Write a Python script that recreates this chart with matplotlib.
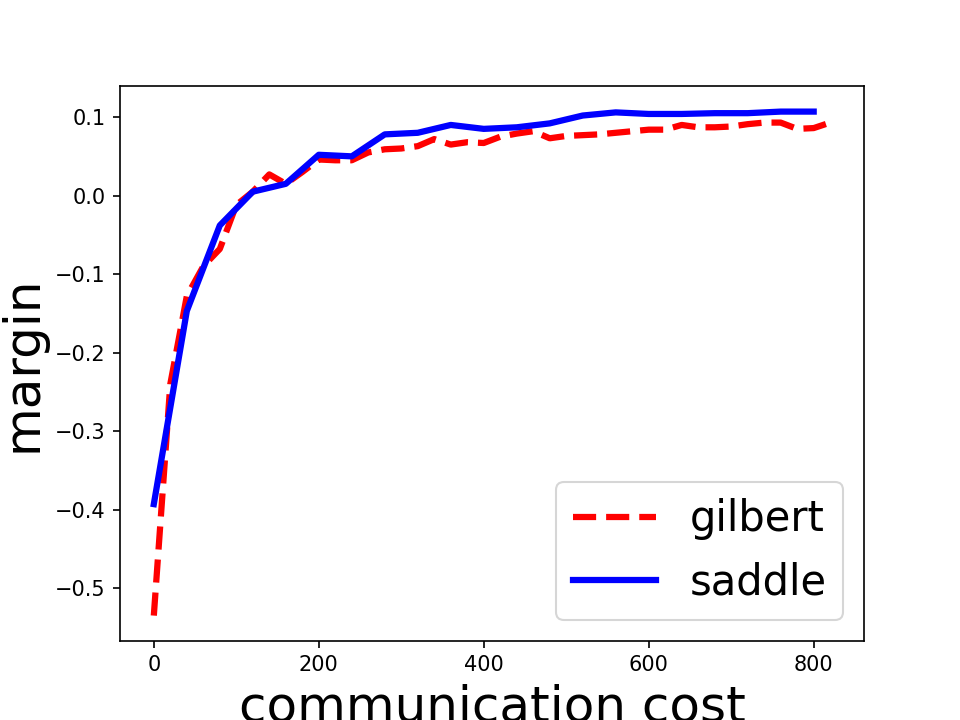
import matplotlib
matplotlib.use("Agg")
import matplotlib.pyplot as plt

# gilbert: sampled every 20 units of communication cost
gilbert_x = [0, 20, 40, 60, 80, 100, 120, 140, 160, 180, 200, 220, 240, 260, 280,
             300, 320, 340, 360, 380, 400, 420, 440, 460, 480, 500, 520, 540, 560,
             580, 600, 620, 640, 660, 680, 700, 720, 740, 760, 780, 800, 820]
gilbert_y = [-0.535, -0.24, -0.128, -0.09, -0.068, -0.012, 0.005, 0.027, 0.015, 0.030,
             0.046, 0.045, 0.045, 0.055, 0.059, 0.060, 0.063, 0.072, 0.065, 0.068,
             0.067, 0.075, 0.079, 0.082, 0.073, 0.076, 0.077, 0.078, 0.080, 0.082,
             0.084, 0.084, 0.090, 0.087, 0.087, 0.088, 0.091, 0.093, 0.093, 0.085,
             0.086, 0.093]

# saddle: sampled every 40 units
saddle_x = [0, 40, 80, 120, 160, 200, 240, 280, 320, 360, 400, 440, 480, 520, 560,
            600, 640, 680, 720, 760, 800]
saddle_y = [-0.393, -0.147, -0.038, 0.005, 0.015, 0.052, 0.050, 0.078, 0.080, 0.090,
            0.085, 0.087, 0.092, 0.102, 0.106, 0.104, 0.104, 0.105, 0.105, 0.107, 0.107]

fig, ax = plt.subplots(figsize=(6.4, 4.8), dpi=150)
ax.plot(gilbert_x, gilbert_y, "r--", linewidth=3, label="gilbert")
ax.plot(saddle_x, saddle_y, "b-", linewidth=3, label="saddle")
ax.set_xlabel("communication cost", fontsize=24)
ax.set_ylabel("margin", fontsize=24)
ax.legend(loc="lower right", fontsize=20)
fig.savefig("out.png", dpi=150)
